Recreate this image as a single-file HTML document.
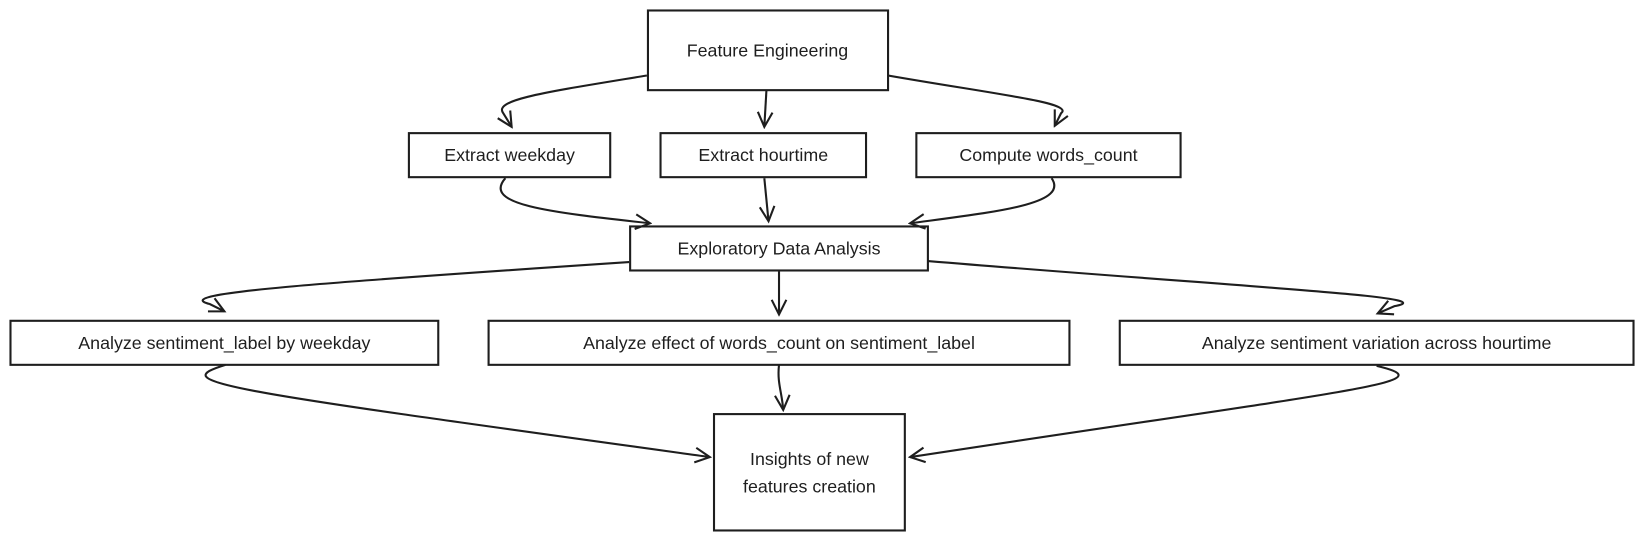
<!DOCTYPE html>
<html><head><meta charset="utf-8"><style>
html,body{margin:0;padding:0;background:#fff;}
svg{display:block}
text{font-family:"Liberation Sans",sans-serif;font-size:17px;fill:#1e1e1e;text-anchor:middle;dominant-baseline:central}
</style></head><body>
<svg width="1644" height="542" viewBox="0 0 1568 517" preserveAspectRatio="none" xmlns="http://www.w3.org/2000/svg">
<defs>
<marker id="a" viewBox="0 0 20 20" refX="18" refY="10" markerWidth="20" markerHeight="20" markerUnits="userSpaceOnUse" orient="auto">
<polyline points="4,3 18,10 4,17" fill="none" stroke="#1e1e1e" stroke-width="2"/>
</marker>
</defs>
<g fill="none" stroke="#1e1e1e" stroke-width="2">
<rect x="618" y="10" width="229" height="76"/>
<rect x="390" y="127" width="192" height="42"/>
<rect x="630" y="127" width="196" height="42"/>
<rect x="874" y="127" width="252" height="42"/>
<rect x="601" y="216" width="284" height="42"/>
<rect x="10" y="306" width="408" height="42"/>
<rect x="466" y="306" width="554" height="42"/>
<rect x="1068" y="306" width="490" height="42"/>
<rect x="681" y="395" width="182" height="111"/>
<g marker-end="url(#a)">
<path d="M617,72 C520,88 470,95 480,108 L488,121"/>
<path d="M731,86 L729,121"/>
<path d="M847,72 C950,90 1025,98 1012,108 L1006,120"/>
<path d="M482,170 C460,195 520,202 620,213"/>
<path d="M729,170 L733,211"/>
<path d="M1003,170 C1020,195 950,202 868,213"/>
<path d="M600,250 C300,270 160,280 200,290 L214,297"/>
<path d="M743,259 L743,300"/>
<path d="M885,249 C1200,275 1380,283 1330,292 L1314,299"/>
<path d="M215,348 C160,365 200,370 677,436"/>
<path d="M743,348 C741,365 746,375 747,391"/>
<path d="M1313,349 C1380,365 1300,370 868,436"/>
</g>
</g>
<text x="732" y="48">Feature Engineering</text>
<text x="486" y="148">Extract weekday</text>
<text x="728" y="148">Extract hourtime</text>
<text x="1000" y="148">Compute words_count</text>
<text x="743" y="237">Exploratory Data Analysis</text>
<text x="214" y="327">Analyze sentiment_label by weekday</text>
<text x="743" y="327">Analyze effect of words_count on sentiment_label</text>
<text x="1313" y="327">Analyze sentiment variation across hourtime</text>
<text x="772" y="438">Insights  of new</text>
<text x="772" y="464">features creation</text>
</svg>
</body></html>
